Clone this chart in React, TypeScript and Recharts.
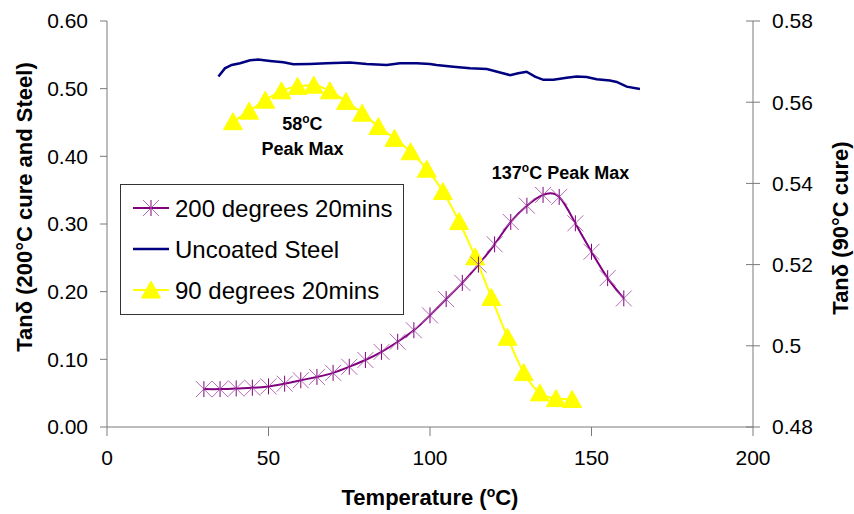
import React from 'react';
import { LineChart, Line, XAxis, YAxis, Legend, ReferenceDot } from 'recharts';

const FONT = '"Liberation Sans", Arial, Helvetica, sans-serif';

// 200 degrees 20mins (left axis)
const temps200 = [30, 35, 40, 45, 50, 55, 60, 65, 70, 75, 80, 85, 90, 95, 100, 105, 110, 115, 120, 125, 130, 135, 140, 145, 150, 155, 160];
const tan200 = [0.056, 0.056, 0.057, 0.058, 0.060, 0.064, 0.069, 0.074, 0.080, 0.089, 0.099, 0.111, 0.126, 0.143, 0.165, 0.189, 0.213, 0.240, 0.270, 0.303, 0.327, 0.343, 0.340, 0.301, 0.259, 0.220, 0.190];

// Uncoated Steel (left axis)
const tempsSteel = [34.5, 36.5, 38.6, 41.2, 44.3, 46.8, 50.5, 54.6, 57.7, 62.8, 68, 75.2, 80.4, 86.6, 90.7, 95.9, 100, 102, 107.2, 112.4, 117.6, 121.7, 124.8, 127.3, 129.9, 132.5, 135.1, 138.2, 142.3, 145.4, 148.5, 151.6, 155.7, 157.8, 160.9, 165];
const tanSteel = [0.518, 0.530, 0.535, 0.5375, 0.542, 0.543, 0.541, 0.539, 0.536, 0.5365, 0.5375, 0.5385, 0.5365, 0.535, 0.5375, 0.5375, 0.5365, 0.535, 0.5325, 0.530, 0.529, 0.524, 0.520, 0.5227, 0.525, 0.5177, 0.513, 0.5132, 0.516, 0.518, 0.5172, 0.514, 0.512, 0.510, 0.503, 0.4995];

// 90 degrees 20mins (right axis)
const temps90 = [39, 44, 49, 54, 59, 64, 69, 74, 79, 84, 89, 94, 99, 104, 109, 114, 119, 124, 129, 134, 139, 144];
const tan90 = [0.5552, 0.5578, 0.5605, 0.5628, 0.5639, 0.5642, 0.5628, 0.5602, 0.5573, 0.5540, 0.5511, 0.5478, 0.5435, 0.5380, 0.5306, 0.5219, 0.5119, 0.5021, 0.4934, 0.4884, 0.4870, 0.4868];

const xTicks = [0, 50, 100, 150, 200];
const leftTicks = [0, 0.1, 0.2, 0.3, 0.4, 0.5, 0.6];
const rightTicks = [0.48, 0.5, 0.52, 0.54, 0.56, 0.58];

const legendNames = ['200 degrees 20mins', 'Uncoated Steel', '90 degrees 20mins'];

const data200 = temps200.map((t, i) => ({ temp: t, tan: tan200[i] }));
const dataSteel = tempsSteel.map((t, i) => ({ temp: t, tan: tanSteel[i] }));
const data90 = temps90.map((t, i) => ({ temp: t, tan: tan90[i] }));

const PURPLE = '#800080';
const STAR = '#b56ab5';
const NAVY = '#000080';
const YELLOW = '#ffff00';
const AXIS = '#7a7a7a';

const starDot = (props: any) => {
  const { cx, cy, index } = props;
  if (cx == null || cy == null) return <g key={`st-${index}`} />;
  const s = 8;
  return (
    <g key={`st-${index}`}>
      <line x1={cx - s} y1={cy - s} x2={cx + s} y2={cy + s} stroke={STAR} strokeWidth={1} />
      <line x1={cx - s} y1={cy + s} x2={cx + s} y2={cy - s} stroke={STAR} strokeWidth={1} />
      <line x1={cx} y1={cy - s} x2={cx} y2={cy + s} stroke={PURPLE} strokeWidth={1} />
    </g>
  );
};

const triangleDot = (props: any) => {
  const { cx, cy, index } = props;
  if (cx == null || cy == null) return <g key={`tr-${index}`} />;
  return (
    <polygon
      key={`tr-${index}`}
      points={`${cx},${cy - 9} ${cx - 9.5},${cy + 8} ${cx + 9.5},${cy + 8}`}
      fill={YELLOW}
      stroke={YELLOW}
    />
  );
};

const fmtRight = (v: number) => String(Number(v.toFixed(2)));

// right axis ticks cross the axis line
const RightTick = (props: any) => {
  const { x, y, payload } = props;
  const axisX = x - 19;
  return (
    <g>
      <line x1={axisX - 7} x2={axisX + 7} y1={y} y2={y} stroke={AXIS} />
      <text x={x} y={y} dy="0.355em" textAnchor="start" fontSize={21} fill="#000" fontFamily={FONT}>
        {fmtRight(payload.value)}
      </text>
    </g>
  );
};

const LeftTitle = (props: any) => {
  const vb = props.viewBox;
  const cx = vb.x + 24;
  const cy = vb.y + vb.height / 2 - 17;
  return (
    <text x={cx} y={cy} dy="0.36em" transform={`rotate(-90, ${cx}, ${cy})`} textAnchor="middle"
      fontSize={22} fontWeight="bold" fontFamily={FONT} fill="#000">
      Tanδ (200°C cure and Steel)
    </text>
  );
};

const RightTitle = (props: any) => {
  const vb = props.viewBox;
  const cx = vb.x + 87;
  const cy = vb.y + vb.height / 2 + 4;
  return (
    <text x={cx} y={cy} dy="0.36em" transform={`rotate(-90, ${cx}, ${cy})`} textAnchor="middle"
      fontSize={22} fontWeight="bold" fontFamily={FONT} fill="#000">
      Tanδ (90°C cure)
    </text>
  );
};

const XTitle = (props: any) => {
  const vb = props.viewBox;
  const cx = vb.x + vb.width / 2;
  const cy = vb.y + 70;
  return (
    <text x={cx} y={cy} dy="0.36em" textAnchor="middle" fontSize={22} fontWeight="bold" fontFamily={FONT} fill="#000">
      <tspan>Temperature (</tspan>
      <tspan dy={-8} fontSize={14}>o</tspan>
      <tspan dy={8}>C)</tspan>
    </text>
  );
};

const peakLabel = (temp: string, rest: string) => (props: any) => {
  const { x, y, width } = props.viewBox;
  const cx = x + (width || 0) / 2;
  return (
    <text x={cx} y={y} dy="0.36em" textAnchor="middle" fontSize={18} fontWeight="bold" fontFamily={FONT} fill="#000">
      <tspan>{temp}</tspan>
      {rest !== null && <tspan dy={-7} fontSize={12}>o</tspan>}
      <tspan dy={7}>{'C' + rest}</tspan>
    </text>
  );
};

const plainLabel = (txt: string) => (props: any) => {
  const { x, y, width } = props.viewBox;
  return (
    <text x={x + (width || 0) / 2} y={y} dy="0.36em" textAnchor="middle" fontSize={18} fontWeight="bold" fontFamily={FONT} fill="#000">
      {txt}
    </text>
  );
};

const renderLegend = () => (
  <div style={{ width: 284, height: 131, border: '1px solid #333', background: '#fff', boxSizing: 'border-box' }}>
    <svg width={282} height={129}>
      {legendNames.map((name, i) => {
        const cy = 23 + i * 41;
        return (
          <g key={name}>
            <line x1={12} x2={48} y1={cy} y2={cy}
              stroke={i === 0 ? PURPLE : i === 1 ? NAVY : YELLOW} strokeWidth={i === 1 ? 2.5 : 2} />
            {i === 0 && starDot({ cx: 30, cy, index: 'lg' })}
            {i === 2 && triangleDot({ cx: 30, cy, index: 'lg' })}
            <text x={54} y={cy} dy="0.36em" fontSize={24} fontFamily={FONT} fill="#000">{name}</text>
          </g>
        );
      })}
    </svg>
  </div>
);

export default function App() {
  return (
    <div style={{ position: 'absolute', left: 0, top: 0, width: 854, height: 514, background: '#fff' }}>
      <LineChart width={854} height={514} margin={{ top: 21, right: 10, bottom: 0, left: 0 }}>
        <XAxis
          dataKey="temp"
          type="number"
          domain={[0, 200]}
          ticks={xTicks}
          allowDataOverflow
          height={87}
          tickSize={9}
          tickMargin={14}
          stroke={AXIS}
          tick={{ fill: '#000', fontSize: 21, fontFamily: FONT }}
          label={XTitle}
        />
        <YAxis
          yAxisId="left"
          domain={[0, 0.6]}
          ticks={leftTicks}
          width={107}
          tickSize={7}
          tickMargin={12}
          stroke={AXIS}
          tickFormatter={(v: number) => v.toFixed(2)}
          tick={{ fill: '#000', fontSize: 21, fontFamily: FONT }}
          label={LeftTitle}
        />
        <YAxis
          yAxisId="right"
          orientation="right"
          domain={[0.48, 0.58]}
          ticks={rightTicks}
          width={91}
          tickSize={7}
          tickMargin={12}
          stroke={AXIS}
          tickLine={false}
          tick={RightTick}
          label={RightTitle}
        />
        <Legend
          layout="vertical"
          align="center"
          verticalAlign="middle"
          content={renderLegend}
          wrapperStyle={{ left: 120, top: 184, width: 284, height: 131 }}
        />
        <Line
          yAxisId="right"
          data={data90}
          dataKey="tan"
          name="90 degrees 20mins"
          type="monotone"
          stroke={YELLOW}
          strokeWidth={2}
          dot={triangleDot}
          activeDot={false}
          isAnimationActive={false}
        />
        <Line
          yAxisId="left"
          data={dataSteel}
          dataKey="tan"
          name="Uncoated Steel"
          type="linear"
          stroke={NAVY}
          strokeWidth={2.5}
          dot={false}
          activeDot={false}
          isAnimationActive={false}
        />
        <Line
          yAxisId="left"
          data={data200}
          dataKey="tan"
          name="200 degrees 20mins"
          type="natural"
          stroke={PURPLE}
          strokeWidth={2}
          dot={starDot}
          activeDot={false}
          isAnimationActive={false}
        />
        <ReferenceDot yAxisId="left" x={60.5} y={0.448} r={0} fill="none" stroke="none" label={peakLabel('58', '')} />
        <ReferenceDot yAxisId="left" x={60.5} y={0.4116} r={0} fill="none" stroke="none" label={plainLabel('Peak Max')} />
        <ReferenceDot yAxisId="left" x={140.4} y={0.3768} r={0} fill="none" stroke="none" label={peakLabel('137', ' Peak Max')} />
      </LineChart>
    </div>
  );
}
